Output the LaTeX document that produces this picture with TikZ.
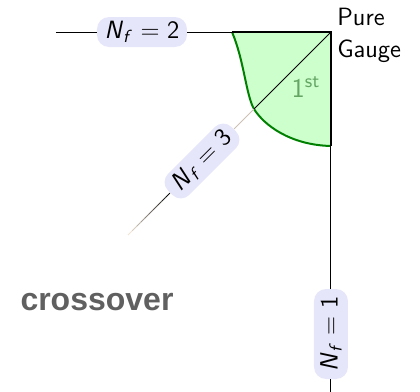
\documentclass[tikz,border=0pt]{standalone}
\usepackage{fontspec}
\newfontfamily\crossfont{Liberation Sans}
\usepackage{tikz}
\usetikzlibrary{calc}
\definecolor{labelblue}{RGB}{230,230,250}
\definecolor{firstgreen}{RGB}{204,255,204}
\definecolor{linegreen}{RGB}{0,128,0}
\definecolor{textgreen}{RGB}{100,165,100}
\definecolor{crossgray}{RGB}{96,96,96}
\definecolor{fadebeige}{RGB}{252,240,225}
\newcommand{\nflab}[1]{\textit{N}\textsubscript{\textit{f}}\hspace{0.3em}=\hspace{0.3em}#1}

\begin{document}
\begin{tikzpicture}[
  x=0.5pt, y=-0.5pt,
  nflabel/.style={
    rectangle, rounded corners=6pt, fill=labelblue,
    minimum width=45pt, minimum height=15pt, inner sep=1.5pt,
    font=\sffamily\fontsize{12.5}{14}\selectfont
  },
  thinline/.style={line width=0.5pt},
  thickline/.style={line width=1.4pt},
  diagline/.style={line width=0.4pt}
]
  \useasboundingbox (0,0) rectangle (420,392);

  % corner and boundary points
  \coordinate (pg)     at (331,32);
  \coordinate (top)    at (232,32);
  \coordinate (side)   at (331,146);
  \coordinate (tc)     at (254,109);
  \coordinate (left)   at (56,32);
  \coordinate (bottom) at (331,392);
  \coordinate (fade)   at (128,235);

  % first order region
  \fill[firstgreen] (top) .. controls (244,60) and (246,95) .. (tc)
    .. controls (264,125) and (290,145) .. (side) -- (pg) -- cycle;
  \draw[linegreen, line width=1pt] (top) .. controls (244,60) and (246,95) .. (tc)
    .. controls (264,125) and (290,145) .. (side);

  % flavour labels
  \node[nflabel]                                (nf2) at (142,32)  {\nflab{2}};
  \node[nflabel, rotate=45]                     (nf3) at (202,161) {\nflab{3}};
  \node[nflabel, rotate=90, minimum height=17pt] (nf1) at (331,334) {\nflab{1}};

  % edges of the plot
  \draw[thinline] (left) -- (nf2);
  \draw[thinline] (nf2) -- (top);
  \draw[thickline] (top) -- (pg) -- (side);
  \draw[thinline] (side) -- (nf1) -- (bottom);

  % diagonal
  \draw[diagline] (pg) -- (tc);
  \draw[diagline, black!20!fadebeige] (tc) -- (nf3);
  \foreach \i [evaluate=\i as \shadeval using 95-10*\i] in {0,...,9}
    \draw[diagline, black!\shadeval!fadebeige]
      ($(nf3.west)!\i/10!(fade)$) -- ($(nf3.west)!\i/10+0.1!(fade)$);

  % texts
  \node[text=textgreen, font=\sffamily\fontsize{13.5}{15}\selectfont]
        (first) at (306,87) {1\textsuperscript{st}};
  \node[anchor=west, align=left, inner sep=0pt,
        font=\sffamily\fontsize{12.5}{16}\selectfont]
        (pure) at (337,35) {Pure\\Gauge};
  \node[text=crossgray, font=\crossfont\bfseries\fontsize{16}{18}\selectfont]
        (cross) at (97,302) {crossover};
\end{tikzpicture}
\end{document}
